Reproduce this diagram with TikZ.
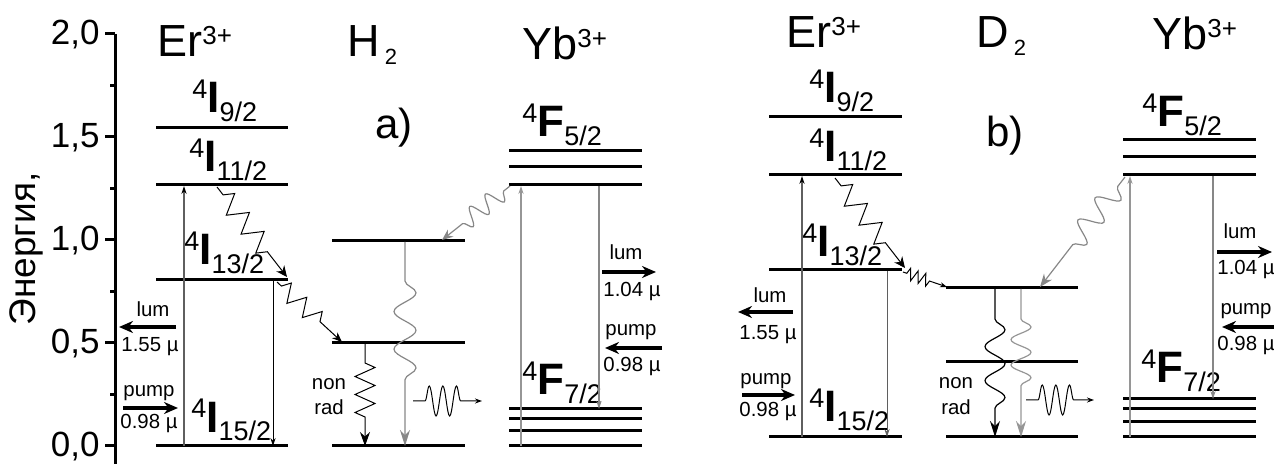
\documentclass[tikz,border=0pt]{standalone}
\usepackage{fontspec}
\setmainfont{Liberation Sans}
\usepackage{tikz}
\usetikzlibrary{arrows.meta,decorations.pathmorphing}
\usepackage{xcolor}
\definecolor{cLum}{RGB}{135,135,135}
\definecolor{cPump}{RGB}{150,150,150}
\definecolor{cEr}{RGB}{95,95,95}
\newcommand{\lvlterm}[3]{{\fontsize{13.5}{14}\selectfont\raisebox{7pt}{#1}}%
  {\fontsize{22}{22}\selectfont\bfseries #2}{\fontsize{13.5}{14}\selectfont\raisebox{-4.5pt}{#3}}}
\newcommand{\ionup}[2]{#1\raisebox{6pt}{\fontsize{13}{14}\selectfont #2}}
\newcommand{\moldn}[2]{#1\kern2.5pt\raisebox{-4pt}{\fontsize{11}{12}\selectfont #2}}
\tikzset{
  axln/.style={line width=1.5pt},
  lvl/.style={line width=1.5pt},
  tklbl/.style={font=\fontsize{17.5}{18}\selectfont,inner sep=0pt,anchor=base east},
  ionlbl/.style={font=\fontsize{22.5}{24}\selectfont,inner sep=0pt,anchor=base west},
  trmlbl/.style={inner sep=0pt,anchor=base west},
  panlbl/.style={font=\fontsize{21}{22}\selectfont,inner sep=0pt,anchor=base west},
  smlbl/.style={font=\fontsize{10.2}{11}\selectfont,inner sep=0pt,anchor=base},
  thinarr/.style={-{Stealth[length=4pt,width=2.6pt]},line width=0.5pt},
  erarr/.style={-{Stealth[length=4pt,width=2.6pt,black]},line width=0.6pt,color=cEr},
  ybarr/.style={-{Stealth[length=4pt,width=2.6pt]},line width=0.6pt,color=cPump},
  bigarr/.style={-{Stealth[length=7pt,width=6pt]},line width=1.8pt},
  zz/.style n args={4}{decorate,decoration={zigzag,amplitude=#1,segment length=#2,
                       pre length=#3,post length=#4}},
  sn/.style n args={4}{decorate,decoration={snake,amplitude=#1,segment length=#2,
                       pre length=#3,post length=#4}}
}
\begin{document}
\begin{tikzpicture}[x=0.5pt,y=-0.5pt]
  \useasboundingbox (0,0) rectangle (1274,464);
  % energy axis
  \draw[axln] (115,34) -- (115,464);
  \foreach \yy/\tx in {34/{2,0},137/{1,5},240/{1,0},343/{0,5},446/{0,0}}{
    \draw[axln] (105,\yy) -- (115,\yy);
    \node[tklbl] (tk\yy) at (100,\yy+11) {\tx};
  }
  \foreach \yy in {85.5,188.5,291.5,394.5}
    \draw[axln] (110,\yy) -- (115,\yy);
  \node[font=\fontsize{18.5}{20}\selectfont,rotate=90,anchor=base,inner sep=0pt]
    (ylab) at (35,249) {Энергия,};

  % ---- panel a) ----
  \foreach \yy in {128,185,280,446}
    \draw[lvl] (156,\yy) -- (288,\yy);
  \foreach \yy in {241,343,446}
    \draw[lvl] (332,\yy) -- (465,\yy);
  \foreach \yy in {151,167,185,409,419,431,446}
    \draw[lvl] (509,\yy) -- (642,\yy);

  \node[ionlbl] (erA) at (157,57) {\ionup{Er}{3+}};
  \node[ionlbl] (hA) at (347,57) {\moldn{H}{2}};
  \node[ionlbl] (ybA) at (522,60) {\ionup{Yb}{3+}};
  \node[panlbl] (pa) at (375,139) {a)};
  \node[trmlbl] (erA9) at (192,113) {\lvlterm{4}{I}{9/2}};
  \node[trmlbl] (erA11) at (189,172) {\lvlterm{4}{I}{11/2}};
  \node[trmlbl] (erA13) at (184,265) {\lvlterm{4}{I}{13/2}};
  \node[trmlbl] (erA15) at (191,432) {\lvlterm{4}{I}{15/2}};
  \node[trmlbl] (ybA5) at (522,137) {\lvlterm{4}{F}{5/2}};
  \node[trmlbl] (ybA7) at (522,395) {\lvlterm{4}{F}{7/2}};

  \coordinate (aPb) at (184,446);   \coordinate (aPt) at (184,186);
  \coordinate (aDt) at (273,281);   \coordinate (aDb) at (273,446);
  \coordinate (aW1) at (217,187);   \coordinate (aW2) at (287,277);
  \coordinate (aW3) at (277,282);   \coordinate (aW4) at (342,342);
  \coordinate (aYb) at (521,446);   \coordinate (aYt) at (521,186);
  \coordinate (aLt) at (599,186);   \coordinate (aLb) at (599,409);
  \coordinate (aT1) at (510,186);   \coordinate (aT2) at (442,240);
  \coordinate (aGt) at (405,242);   \coordinate (aGb) at (405,446);
  \coordinate (aNt) at (365,344);   \coordinate (aNb) at (365,446);
  \coordinate (aEl) at (413,401);   \coordinate (aEr) at (482,401);

  \draw[erarr] (aPb) -- (aPt);
  \draw[thinarr] (aDt) -- (aDb);
  \draw[-{Stealth[length=5.5pt,width=5pt]},line width=0.5pt,zz={5pt}{12pt}{5pt}{15pt}] (aW1) -- (aW2);
  \draw[-{Stealth[length=5pt,width=4pt]},line width=0.5pt,zz={4.5pt}{10.5pt}{3pt}{10pt}] (aW3) -- (aW4);
  \draw[ybarr] (aYb) -- (aYt);
  \draw[ybarr,color=cLum] (aLt) -- (aLb);
  \draw[-{Stealth[length=5.5pt,width=4.5pt]},line width=0.6pt,color=cLum,sn={4.5pt}{10pt}{4pt}{9pt}] (aT1) -- (aT2);
  \draw[-{Stealth[length=8pt,width=5pt]},line width=0.6pt,color=cLum,sn={5.5pt}{18.8pt}{19.5pt}{26pt}] (aGt) -- (aGb);
  \draw[-{Stealth[length=7pt,width=5pt]},line width=0.5pt,zz={5pt}{9pt}{9.5pt}{14.5pt}] (aNt) -- (aNb);
  \draw[-{Stealth[length=3.5pt,width=2.5pt]},line width=0.5pt,sn={7.5pt}{6.8pt}{6pt}{8pt}] (aEl) -- (aEr);

  \node[smlbl] (nonA) at (329,390) {non};
  \node[smlbl] (radA) at (329,415) {rad};

  \node[smlbl] (lumA) at (153,317) {lum};
  \node[smlbl] (lumAv) at (150,352) {1.55 µ};
  \node[smlbl] (pumpA) at (149,397) {pump};
  \node[smlbl] (pumpAv) at (149,429) {0.98 µ};
  \coordinate (aLumS) at (176,327); \coordinate (aLumE) at (119,327);
  \coordinate (aPmpS) at (123,408); \coordinate (aPmpE) at (178,408);
  \draw[bigarr] (aLumS) -- (aLumE);
  \draw[bigarr] (aPmpS) -- (aPmpE);

  \node[smlbl] (lumB) at (626,260) {lum};
  \node[smlbl] (lumBv) at (632,297) {1.04 µ};
  \node[smlbl] (pumpB) at (631,336) {pump};
  \node[smlbl] (pumpBv) at (632,372) {0.98 µ};
  \coordinate (aYLumS) at (602,272); \coordinate (aYLumE) at (656,272);
  \coordinate (aYPmpS) at (662,348); \coordinate (aYPmpE) at (605,348);
  \draw[bigarr] (aYLumS) -- (aYLumE);
  \draw[bigarr] (aYPmpS) -- (aYPmpE);

  % ---- panel b) ----
  \foreach \yy in {117,175,270,437}
    \draw[lvl] (769,\yy) -- (902,\yy);
  \foreach \yy in {288,362,437}
    \draw[lvl] (946,\yy) -- (1078,\yy);
  \foreach \yy in {140,157,175,399,409,422,437}
    \draw[lvl] (1123,\yy) -- (1256,\yy);

  \node[ionlbl] (erB) at (786,48) {\ionup{Er}{3+}};
  \node[ionlbl] (dB) at (976,48) {\moldn{D}{2}};
  \node[ionlbl] (ybB) at (1152,50) {\ionup{Yb}{3+}};
  \node[panlbl] (pb) at (986,147) {b)};
  \node[trmlbl] (erB9) at (809,103) {\lvlterm{4}{I}{9/2}};
  \node[trmlbl] (erB11) at (809,162) {\lvlterm{4}{I}{11/2}};
  \node[trmlbl] (erB13) at (802,257) {\lvlterm{4}{I}{13/2}};
  \node[trmlbl] (erB15) at (809,422) {\lvlterm{4}{I}{15/2}};
  \node[trmlbl] (ybB5) at (1142,127) {\lvlterm{4}{F}{5/2}};
  \node[trmlbl] (ybB7) at (1141,383) {\lvlterm{4}{F}{7/2}};

  \coordinate (bPb) at (802,437);   \coordinate (bPt) at (802,176);
  \coordinate (bDt) at (887,271);   \coordinate (bDb) at (887,437);
  \coordinate (bW1) at (835,178);   \coordinate (bW2) at (905,268);
  \coordinate (bW3) at (903,272);   \coordinate (bW4) at (947,287);
  \coordinate (bYb) at (1130,437);  \coordinate (bYt) at (1130,176);
  \coordinate (bLt) at (1213,176);  \coordinate (bLb) at (1213,399);
  \coordinate (bT1) at (1125,177);  \coordinate (bT2) at (1040,287);
  \coordinate (bKt) at (995,289);   \coordinate (bKb) at (995,437);
  \coordinate (bGt) at (1021,289);  \coordinate (bGb) at (1021,437);
  \coordinate (bEl) at (1026,400);  \coordinate (bEr) at (1094,400);

  \draw[erarr] (bPb) -- (bPt);
  \draw[thinarr,color=cEr] (bDt) -- (bDb);
  \draw[-{Stealth[length=5.5pt,width=5pt]},line width=0.5pt,zz={5pt}{12pt}{5pt}{15pt}] (bW1) -- (bW2);
  \draw[-{Stealth[length=3.5pt,width=2.5pt]},line width=0.5pt,zz={3pt}{4pt}{2pt}{8pt}] (bW3) -- (bW4);
  \draw[ybarr] (bYb) -- (bYt);
  \draw[ybarr,color=cLum] (bLt) -- (bLb);
  \draw[-{Stealth[length=6.5pt,width=5pt]},line width=0.6pt,color=cLum,sn={5.5pt}{14pt}{6pt}{20pt}] (bT1) -- (bT2);
  \draw[-{Stealth[length=8pt,width=5pt]},line width=0.6pt,sn={5pt}{17pt}{15pt}{8pt}] (bKt) -- (bKb);
  \draw[-{Stealth[length=8pt,width=5pt]},line width=0.6pt,color=cPump,sn={5pt}{12.7pt}{15pt}{21pt}] (bGt) -- (bGb);
  \draw[-{Stealth[length=3.5pt,width=2.5pt]},line width=0.5pt,sn={7.5pt}{6.8pt}{6pt}{8pt}] (bEl) -- (bEr);

  \node[smlbl] (nonB) at (956,389) {non};
  \node[smlbl] (radB) at (956,415) {rad};

  \node[smlbl] (lumC) at (770,303) {lum};
  \node[smlbl] (lumCv) at (768,340) {1.55 µ};
  \node[smlbl] (pumpC) at (766,385) {pump};
  \node[smlbl] (pumpCv) at (768,416) {0.98 µ};
  \coordinate (bLumS) at (793,312); \coordinate (bLumE) at (738,312);
  \coordinate (bPmpS) at (742,395); \coordinate (bPmpE) at (795,395);
  \draw[bigarr] (bLumS) -- (bLumE);
  \draw[bigarr] (bPmpS) -- (bPmpE);

  \node[smlbl] (lumD) at (1240,239) {lum};
  \node[smlbl] (lumDv) at (1246,275) {1.04 µ};
  \node[smlbl] (pumpD) at (1246,315) {pump};
  \node[smlbl] (pumpDv) at (1246,351) {0.98 µ};
  \coordinate (bYLumS) at (1217,252); \coordinate (bYLumE) at (1272,252);
  \coordinate (bYPmpS) at (1274,327); \coordinate (bYPmpE) at (1222,327);
  \draw[bigarr] (bYLumS) -- (bYLumE);
  \draw[bigarr] (bYPmpS) -- (bYPmpE);
\end{tikzpicture}
\end{document}
